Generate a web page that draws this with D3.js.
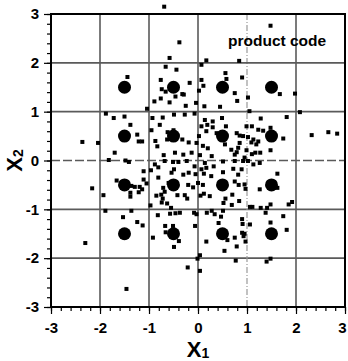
<!DOCTYPE html>
<html><head><meta charset="utf-8">
<script src="https://cdn.jsdelivr.net/npm/d3@7"></script>
<style>html,body{margin:0;padding:0;background:#fff}svg{display:block}</style>
</head><body>
<script>
// Constellation (large dots)
const bigX = [-1.5,-0.5,0.5,1.5,-1.5,-0.5,0.5,1.5,-1.5,-0.5,0.5,1.5,-1.5,-0.5,0.5,1.5];
const bigY = [1.5,1.5,1.5,1.5,0.5,0.5,0.5,0.5,-0.5,-0.5,-0.5,-0.5,-1.5,-1.5,-1.5,-1.5];
// Received noisy points (small squares)
const noisyPts = [
[-0.69,3.15],[-0.38,2.42],[1.48,2.76],[-0.58,2.10],[0.17,2.05],[0.07,1.96],[0.84,2.04],[-0.66,1.92],[-0.44,1.86],[0.56,1.79],[0.90,1.70],[-0.76,1.65],[0.07,1.65],[0.58,1.67],[-0.17,1.59],[-1.44,1.71],[0.11,1.53],
[-0.74,1.46],[-0.66,1.41],[0.02,1.43],[-0.32,1.36],[-0.46,1.31],[0.75,1.38],[-0.76,1.27],[0.80,1.22],[1.02,1.29],[1.67,1.36],[1.98,1.37],[-0.29,1.35],
[-1.04,1.06],[-0.89,1.21],[-0.58,1.19],[-0.25,1.12],[-0.04,1.18],[0.13,1.11],[0.45,1.10],[1.05,1.01],[2.08,0.99],
[-1.88,0.96],[-1.72,0.87],[-1.50,0.90],[-1.38,0.73],[-0.93,0.87],[-0.72,0.88],[-0.78,0.73],[-0.49,0.94],[-0.27,0.94],[-0.07,0.96],[1.81,0.89],[1.28,0.86],
[0.14,0.83],[0.30,0.80],[0.49,0.87],[0.19,0.73],[0.30,0.68],[0.07,0.70],[0.17,0.60],[0.57,0.70],
[1.10,0.70],[1.23,0.63],[1.33,0.61],[1.48,0.67],[0.99,0.70],[0.38,0.56],[0.79,0.56],
[2.32,0.52],[2.66,0.58],[2.84,0.55],[1.74,0.45],
[0.85,0.51],[0.92,0.50],[1.02,0.48],[1.13,0.43],[1.09,0.37],[1.23,0.39],[1.19,0.33],
[0.02,0.50],[0.10,0.30],[0.20,0.25],[-0.19,0.37],[-0.32,0.43],[-0.03,0.36],
[0.55,0.33],[0.68,0.22],[0.75,0.12],[0.85,0.36],[0.82,0.26],[0.79,0.17],
[0.99,0.21],[1.10,0.13],[1.17,0.16],[1.27,0.16],[1.48,0.21],
[-0.95,0.62],[-1.24,0.53],[-1.21,0.39],[-1.14,0.39],[-0.87,0.40],[-0.83,0.29],[-0.62,0.58],[-0.50,0.62],[-0.63,0.43],
[-2.36,0.38],[-2.04,0.36],[-1.70,0.16],[-1.82,0.01],[-1.48,0.0],[-1.41,-0.03],[-0.70,0.11],[-0.13,0.16],[-0.30,0.12],[-0.47,0.16],[0.04,0.11],[0.28,0.09],
[0.95,0.06],[0.92,-0.01],[1.02,-0.01],[0.75,-0.01],[0.51,-0.02],[-0.68,-0.01],[-0.51,-0.03],[-0.40,-0.03],[-0.23,-0.01],[0.14,-0.05],[1.26,-0.05],[1.13,-0.08],
[-1.11,-0.22],[-0.96,-0.20],[-0.88,-0.08],[-0.81,-0.14],[-0.49,-0.18],[-0.54,-0.25],
[-0.30,-0.29],[-0.19,-0.25],[-0.05,-0.28],[0.12,-0.27],[0.27,-0.32],[0.51,-0.24],[0.72,-0.17],[0.89,-0.18],[0.82,-0.29],[0.07,-0.18],[0.17,-0.15],[-0.07,-0.12],[0.32,-0.12],[1.62,-0.27],[-0.81,-0.35],
[-0.60,-0.46],[-0.20,-0.50],[-0.10,-0.55],[0.0,-0.46],[0.10,-0.50],[0.75,-0.43],[0.83,-0.50],[0.95,-0.49],[0.97,-0.58],[-0.27,-0.71],[-0.42,-0.71],[-0.22,-0.78],[0.05,-0.72],[0.12,-0.68],[0.24,-0.73],[0.70,-0.70],[0.56,-0.78],[1.26,-0.59],[1.62,-0.56],
[-0.85,-0.72],[-0.75,-0.70],[-0.68,-0.64],[-0.71,-0.56],[-0.72,-0.78],
[-1.66,-0.41],[-1.36,-0.52],[-1.29,-0.54],[-1.19,-0.54],[-1.11,-0.39],[-1.05,-0.47],[-1.14,-0.59],[-1.21,-0.65],[-1.38,-0.66],[-1.38,-0.74],[-2.16,-0.57],[-1.93,-0.71],
[-0.74,-0.86],[-0.63,-0.88],[-0.55,-0.97],[-0.46,-1.08],[-0.57,-1.09],[-0.82,-1.12],[-0.37,-1.07],
[0.52,-0.87],[0.69,-0.91],[0.84,-0.83],[0.18,-1.07],[0.28,-1.03],[0.34,-1.10],[0.51,-1.03],[0.47,-1.15],[0.42,-1.28],[0.90,-1.20],[0.91,-1.30],[1.06,-1.31],
[1.85,-0.90],[1.92,-0.85],[1.48,-0.90],[1.41,-0.97],[1.28,-0.97],[1.11,-0.95],[1.06,-0.95],[1.38,-1.07],[1.74,-1.14],[1.48,-1.27],[1.81,-1.42],
[-0.97,-0.92],[-1.89,-1.03],[-1.36,-1.03],[-1.53,-1.16],[-1.24,-1.26],[-1.13,-1.33],
[-0.08,-1.07],[-0.03,-1.10],[-0.06,-1.34],[-0.67,-1.34],[-0.66,-1.47],[-0.51,-1.34],[-0.39,-1.65],[-0.49,-1.77],[-0.92,-1.58],[-2.30,-1.69],[-1.46,-2.63],[-0.21,-2.19],[-0.01,-2.01],[0.04,-1.94],[0.04,-2.26],[0.17,-1.66],[0.54,-1.85],[0.60,-1.63],[0.75,-1.58],[0.97,-1.66],[0.77,-2.05],[0.79,-1.76],[0.90,-1.48],[0.95,-1.50],[0.93,-1.55],[1.40,-2.07],[1.48,-2.01]
];
const noisyX = noisyPts.map(p => p[0]);
const noisyY = noisyPts.map(p => p[1]);
const majorTicks = [-3,-2,-1,0,1,2,3];
const minorTicks = d3.range(-3, 3.001, 0.2).map(v => Math.round(v*10)/10);
const annotation = "product code";

const W = 348, H = 361;
const svg = d3.select("body").append("svg").attr("width", W).attr("height", H);
const x = d3.scaleLinear().domain([-3,3]).range([51,345]);
const y = d3.scaleLinear().domain([-3,3]).range([307,14]);
const font = "'Liberation Sans', Arial, sans-serif";

// grid
const grid = svg.append("g");
majorTicks.filter(v => v > -3 && v < 3).forEach(v => {
  grid.append("line").attr("x1", x(v)).attr("x2", x(v)).attr("y1", y(3)).attr("y2", y(-3))
    .attr("stroke", v === 1 ? "#999" : "#5a5a5a").attr("stroke-width", v === 1 ? 1.2 : 1.6)
    .attr("stroke-dasharray", v === 1 ? "6,2,1,2" : null);
  grid.append("line").attr("y1", y(v)).attr("y2", y(v)).attr("x1", x(-3)).attr("x2", x(3))
    .attr("stroke", "#5a5a5a").attr("stroke-width", 1.6)
    .attr("stroke-dasharray", v === 0 ? "9,3" : null);
});

// axes
const fmt = d => String(d);
const xAxis = svg.append("g").attr("transform", `translate(0,${y(-3)})`)
  .call(d3.axisBottom(x).tickValues(majorTicks).tickSize(7).tickPadding(8).tickFormat(fmt));
const xMinor = svg.append("g").attr("transform", `translate(0,${y(-3)})`)
  .call(d3.axisBottom(x).tickValues(minorTicks).tickSize(4).tickFormat(""));
const yAxis = svg.append("g").attr("transform", `translate(${x(-3)},0)`)
  .call(d3.axisLeft(y).tickValues(majorTicks).tickSize(7).tickPadding(5).tickFormat(fmt));
const yMinor = svg.append("g").attr("transform", `translate(${x(-3)},0)`)
  .call(d3.axisLeft(y).tickValues(minorTicks).tickSize(4).tickFormat(""));
[xAxis, xMinor, yAxis, yMinor].forEach(g => {
  g.select(".domain").remove();
  g.selectAll("line").attr("stroke", "#000").attr("stroke-width", 1.2);
  g.selectAll("text").attr("font-family", font).attr("font-size", 15).attr("font-weight", "bold").attr("fill", "#000");
});
xAxis.selectAll("text").filter(d => d === 3).attr("dx", -3);

// frame
svg.append("rect").attr("x", x(-3)).attr("y", y(3)).attr("width", x(3) - x(-3)).attr("height", y(-3) - y(3))
  .attr("fill", "none").attr("stroke", "#000").attr("stroke-width", 2);

// noisy squares
const s = 4;
svg.append("g").selectAll("rect").data(noisyX).join("rect")
  .attr("x", (d,i) => x(d) - s/2).attr("y", (d,i) => y(noisyY[i]) - s/2)
  .attr("width", s).attr("height", s).attr("fill", "#000");

// constellation dots
svg.append("g").selectAll("circle").data(bigX).join("circle")
  .attr("cx", d => x(d)).attr("cy", (d,i) => y(bigY[i])).attr("r", 6.5).attr("fill", "#000");

// annotation
svg.append("text").attr("x", 228).attr("y", 46).attr("font-family", font).attr("font-weight", "bold")
  .attr("font-size", 15.5).attr("fill", "#000").text(annotation);

// axis titles
const xt = svg.append("text").attr("x", 198).attr("y", 357).attr("text-anchor", "middle")
  .attr("font-family", font).attr("font-weight", "bold").attr("font-size", 22).attr("fill", "#000");
xt.append("tspan").text("X");
xt.append("tspan").attr("font-size", 14).attr("dy", 1).text("1");

const yt = svg.append("text").attr("transform", `translate(22,${y(0)}) rotate(-90)`).attr("text-anchor", "middle")
  .attr("font-family", font).attr("font-weight", "bold").attr("font-size", 22).attr("fill", "#000");
yt.append("tspan").text("X");
yt.append("tspan").attr("font-size", 14).attr("dy", 1).text("2");
</script>
</body></html>
